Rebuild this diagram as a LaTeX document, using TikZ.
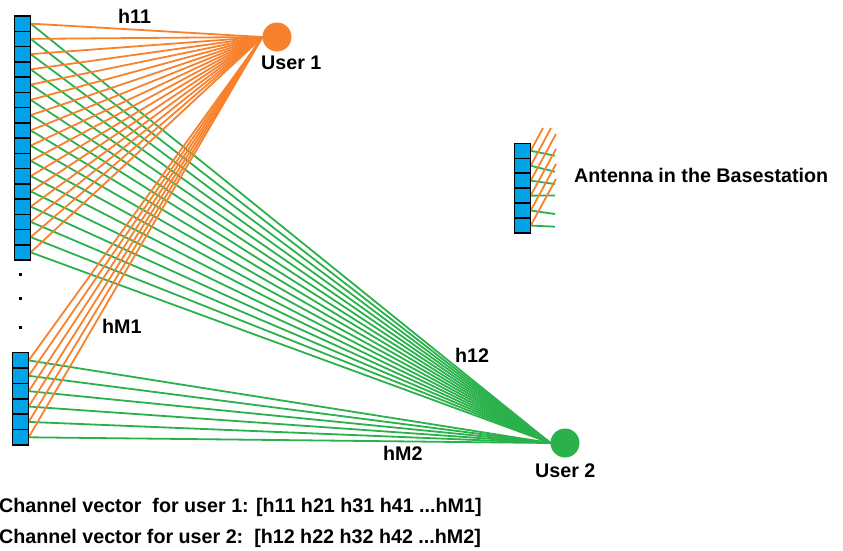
\documentclass[tikz,border=0pt]{standalone}
\usepackage{fontspec}
\setmainfont{Liberation Sans}
\definecolor{ant}{RGB}{0,162,232}
\definecolor{og}{RGB}{247,129,45}
\definecolor{gr}{RGB}{43,177,76}
\pgfdeclarelayer{bg}
\pgfsetlayers{bg,main}
\begin{document}
\begin{tikzpicture}[x=1pt,y=-1pt,
  cell/.style={draw=black,line width=1.5pt,fill=ant,minimum width=16pt,minimum height=#1,inner sep=0pt,outer sep=0pt},
  user/.style={circle,fill=#1,minimum size=29pt,inner sep=0pt,outer sep=0pt},
  olink/.style={draw=og,line width=1.8pt},
  glink/.style={draw=gr,line width=1.8pt},
  lbl/.style={font=\bfseries\fontsize{19.7}{24}\selectfont,anchor=base west,inner sep=0pt},
  dotm/.style={fill=black,minimum size=3pt,inner sep=0pt}]
\useasboundingbox (0,0) rectangle (843,550);
% antenna arrays
\foreach \i in {1,...,16} \node[cell=15.25pt] (t\i) at (22.7,{16+15.25*(\i-0.5)}) {};
\foreach \i in {1,...,6} \node[cell=15.38pt] (b\i) at (20.7,{352.7+15.38*(\i-0.5)}) {};
\foreach \i in {1,...,6} \node[cell=14.95pt] (l\i) at (522.7,{143.3+14.95*(\i-0.5)}) {};
% users
\node[user=og] (u1) at (277,37) {};
\node[user=gr] (u2) at (565,443) {};
% links
\begin{pgfonlayer}{bg}
\foreach \i in {1,...,16} \draw[glink] (t\i.east) -- (u2.west);
\foreach \i in {1,...,6} \draw[glink] (b\i.east) -- (u2.west);
\foreach \i in {1,...,16} \draw[olink] (t\i.east) -- (u1.west);
\foreach \i in {1,...,6} \draw[olink] (b\i.east) -- (u1.west);
% legend stubs
\coordinate (ge1) at (555,155.7);
\coordinate (ge2) at (555,171.7);
\coordinate (ge3) at (555,184);
\coordinate (ge4) at (555,195.5);
\coordinate (ge5) at (555,214);
\coordinate (ge6) at (555,226.7);
\coordinate (oe1) at (543,128);
\coordinate (oe2) at (551,128);
\coordinate (oe3) at (556,134);
\coordinate (oe4) at (556,149);
\coordinate (oe5) at (556,164);
\coordinate (oe6) at (556,179);
\foreach \i in {1,...,6} \draw[glink] (l\i.east) -- (ge\i);
\foreach \i in {1,...,6} \draw[olink] (l\i.east) -- (oe\i);
\end{pgfonlayer}
% dots
\node[dotm] (d1) at (20.7,274) {};
\node[dotm] (d2) at (20.7,298) {};
\node[dotm] (d3) at (20.7,327) {};
% labels
\node[lbl] (h11) at (118,23) {h11};
\node[lbl] (hm1) at (102,333) {hM1};
\node[lbl] (h12) at (455,362) {h12};
\node[lbl] (hm2) at (383,460) {hM2};
\node[lbl] (n1) at (261,69) {User 1};
\node[lbl] (n2) at (535,477) {User 2};
\node[lbl] (leg) at (574,182) {Antenna in the Basestation};
\node[lbl] (c1) at (-1,512) {Channel vector\ \ for user 1: [h11 h21 h31 h41 ...hM1]};
\node[lbl] (c2) at (-1,543) {Channel vector for user 2:\ \ [h12 h22 h32 h42 ...hM2]};
\end{tikzpicture}
\end{document}
